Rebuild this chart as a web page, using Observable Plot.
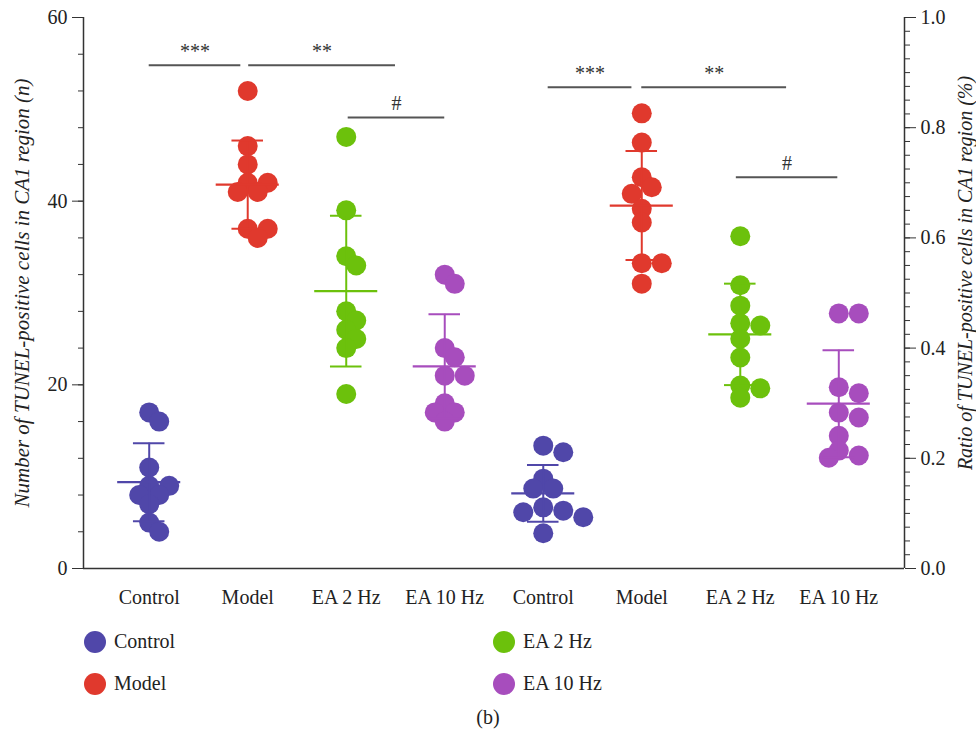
<!DOCTYPE html>
<html>
<head>
<meta charset="utf-8">
<script src="https://cdn.jsdelivr.net/npm/d3@7"></script>
<script src="https://cdn.jsdelivr.net/npm/@observablehq/plot@0.6"></script>
<style>
  body { margin: 0; background: #fff; }
  #wrap { position: relative; width: 976px; height: 739px; font-family: "Liberation Serif", serif; color: #222; }
  .leg { position: absolute; display: flex; align-items: center; font-size: 20px; }
  .leg span.sw { width: 22px; height: 22px; border-radius: 50%; display: inline-block; margin-right: 8px; }
  #cap { position: absolute; left: 0; width: 976px; top: 706px; text-align: center; font-size: 20px; }
</style>
</head>
<body>
<div id="wrap">
  <div id="chart"></div>
  <div id="legend"></div>
  <div id="cap">(b)</div>
</div>
<script>
// ---- data ----
const groups = ["Control", "Model", "EA 2 Hz", "EA 10 Hz"];
const colors = ["#5047a9", "#e0392d", "#6cc10c", "#a74dbd"];

const countControl = [17, 16, 11, 9, 9, 8, 8, 7, 5, 4];
const countModel   = [52, 46, 44, 42, 42, 41, 41, 37, 37, 36];
const countEA2     = [47, 39, 34, 33, 28, 27, 26, 25, 24, 19];
const countEA10    = [32, 31, 24, 23, 21, 21, 18, 17, 17, 16];

const ratioControl = [0.223, 0.211, 0.163, 0.145, 0.145, 0.111, 0.105, 0.102, 0.093, 0.064];
const ratioModel   = [0.826, 0.773, 0.710, 0.692, 0.680, 0.653, 0.628, 0.554, 0.554, 0.517];
const ratioEA2     = [0.603, 0.514, 0.477, 0.445, 0.441, 0.417, 0.383, 0.332, 0.327, 0.310];
const ratioEA10    = [0.463, 0.463, 0.329, 0.318, 0.283, 0.274, 0.241, 0.214, 0.205, 0.201];

const xTickLabels = [...groups, ...groups];
const leftTicks = [0, 20, 40, 60];
const rightTicks = [0, 0.2, 0.4, 0.6, 0.8, 1.0];
const leftTitle = "Number of TUNEL-positive cells in CA1 region (n)";
const rightTitle = "Ratio of TUNEL-positive cells in CA1 region (%)";

// significance brackets (x in category index units, level in left-axis units)
const sigLabels = ["***", "**", "#", "***", "**", "#"];
const sigFrom   = [0, 1.01, 2.02, 4.05, 5.0, 5.96];
const sigTo     = [0.93, 2.5, 3.0, 4.9, 6.47, 6.99];
const sigLevel  = [54.8, 54.8, 49.1, 52.4, 52.4, 42.6];

// ---- layout ----
const W = 976, H = 612;
const mL = 83, mR = 72, mT = 17, plotBottom = 568;
const xDomain = [-0.667, 7.667];
const leftMax = 60, rightMax = 1.0;
const ratioToCount = leftMax / rightMax;

const xPx = (W - mL - mR) / (xDomain[1] - xDomain[0]);
const yPx = (plotBottom - mT) / leftMax;

function jitter(values) {
  const placed = [];
  const out = new Array(values.length);
  const order = d3.range(values.length).sort((a, b) => values[b] - values[a]);
  for (const i of order) {
    const yp = values[i] * yPx;
    for (const k of [0, 1, -1, 2, -2, 3, -3, 4, -4]) {
      const xp = k * 10;
      if (placed.every(p => Math.hypot(p[0] - xp, p[1] - yp) >= 12)) {
        placed.push([xp, yp]); out[i] = xp / xPx; break;
      }
    }
    if (out[i] === undefined) { out[i] = 0; placed.push([0, yp]); }
  }
  return out;
}

const counts = [countControl, countModel, countEA2, countEA10];
const ratios = [ratioControl, ratioModel, ratioEA2, ratioEA10];

const rows = [];
const stats = [];
[counts, ratios].forEach((set, panel) => {
  set.forEach((vals, gi) => {
    const yv = vals.map(v => panel === 0 ? v : v * ratioToCount);
    const xc = panel * 4 + gi;
    const j = jitter(yv);
    yv.forEach((v, k) => rows.push({group: groups[gi], x: xc + j[k], y: v}));
    const m = d3.mean(yv), sd = d3.deviation(yv);
    stats.push({group: groups[gi], x: xc, mean: m, lo: m - sd, hi: m + sd});
  });
});

const sig = sigLabels.map((label, i) => ({label, from: sigFrom[i], to: sigTo[i], level: sigLevel[i]}));

const chart = Plot.plot({
  width: W, height: H,
  marginLeft: mL, marginRight: mR, marginTop: mT, marginBottom: H - plotBottom,
  x: {domain: xDomain, axis: null},
  y: {domain: [0, leftMax], axis: null},
  color: {domain: groups, range: colors},
  style: {fontFamily: "Liberation Serif, serif", fontSize: "20px", color: "#222", background: "#fff"},
  marks: [
    // axis lines
    Plot.ruleX(xDomain, {stroke: "#333", strokeWidth: 1.5}),
    Plot.ruleY([0], {stroke: "#333", strokeWidth: 1.5}),
    // left axis
    Plot.axisY({anchor: "left", ticks: d3.range(0, leftMax + 0.001, 4), tickSize: 5, tickFormat: () => "", label: null, stroke: "#333"}),
    Plot.axisY({anchor: "left", ticks: leftTicks, tickSize: 11, tickPadding: 5, label: null, fontSize: 20, stroke: "#333"}),
    // right axis
    Plot.axisY({anchor: "right", ticks: d3.range(0, rightMax + 0.0001, 0.025).map(v => v * ratioToCount), tickSize: 5, tickFormat: () => "", label: null, stroke: "#333"}),
    Plot.axisY({anchor: "right", ticks: rightTicks.map(v => v * ratioToCount), tickFormat: d => (d / ratioToCount).toFixed(1), tickSize: 11, tickPadding: 5, label: null, fontSize: 20, stroke: "#333"}),
    // x axis
    Plot.axisX({ticks: d3.range(8), tickFormat: i => xTickLabels[i], tickSize: 0, tickPadding: 21, label: null, fontSize: 20}),
    // axis titles
    Plot.text([leftTitle], {text: d => d, frameAnchor: "left", textAnchor: "middle", rotate: -90, dx: -61, fontStyle: "italic", fontSize: 21, letterSpacing: 1.4}),
    Plot.text([rightTitle], {text: d => d, frameAnchor: "right", textAnchor: "middle", rotate: -90, dx: 61, dy: -20, fontStyle: "italic", fontSize: 20, letterSpacing: 0.8}),
    // dots
    Plot.dot(rows, {x: "x", y: "y", r: 10, fill: "group", stroke: "none"}),
    // error bars (mean ± SD)
    Plot.ruleX(stats, {x: "x", y1: "lo", y2: "hi", stroke: "group", strokeWidth: 2}),
    Plot.ruleY(stats, {y: "mean", x1: d => d.x - 0.32, x2: d => d.x + 0.32, stroke: "group", strokeWidth: 2.2}),
    Plot.ruleY(stats, {y: "hi", x1: d => d.x - 0.16, x2: d => d.x + 0.16, stroke: "group", strokeWidth: 2}),
    Plot.ruleY(stats, {y: "lo", x1: d => d.x - 0.16, x2: d => d.x + 0.16, stroke: "group", strokeWidth: 2}),
    // significance
    Plot.ruleY(sig, {y: "level", x1: "from", x2: "to", stroke: "#555", strokeWidth: 2}),
    Plot.text(sig, {x: d => (d.from + d.to) / 2, y: "level", text: "label", dy: -14, fontSize: 20, fill: "#333"})
  ]
});
document.getElementById("chart").appendChild(chart);

// legend (HTML, below the SVG)
const legPos = [[84, 642], [84, 684], [493, 642], [493, 684]];
const leg = document.getElementById("legend");
groups.forEach((g, i) => {
  const d = document.createElement("div");
  d.className = "leg";
  d.style.left = legPos[i][0] + "px";
  d.style.top = (legPos[i][1] - 12) + "px";
  d.innerHTML = `<span class="sw" style="background:${colors[i]}"></span><span>${g}</span>`;
  leg.appendChild(d);
});
</script>
</body>
</html>
